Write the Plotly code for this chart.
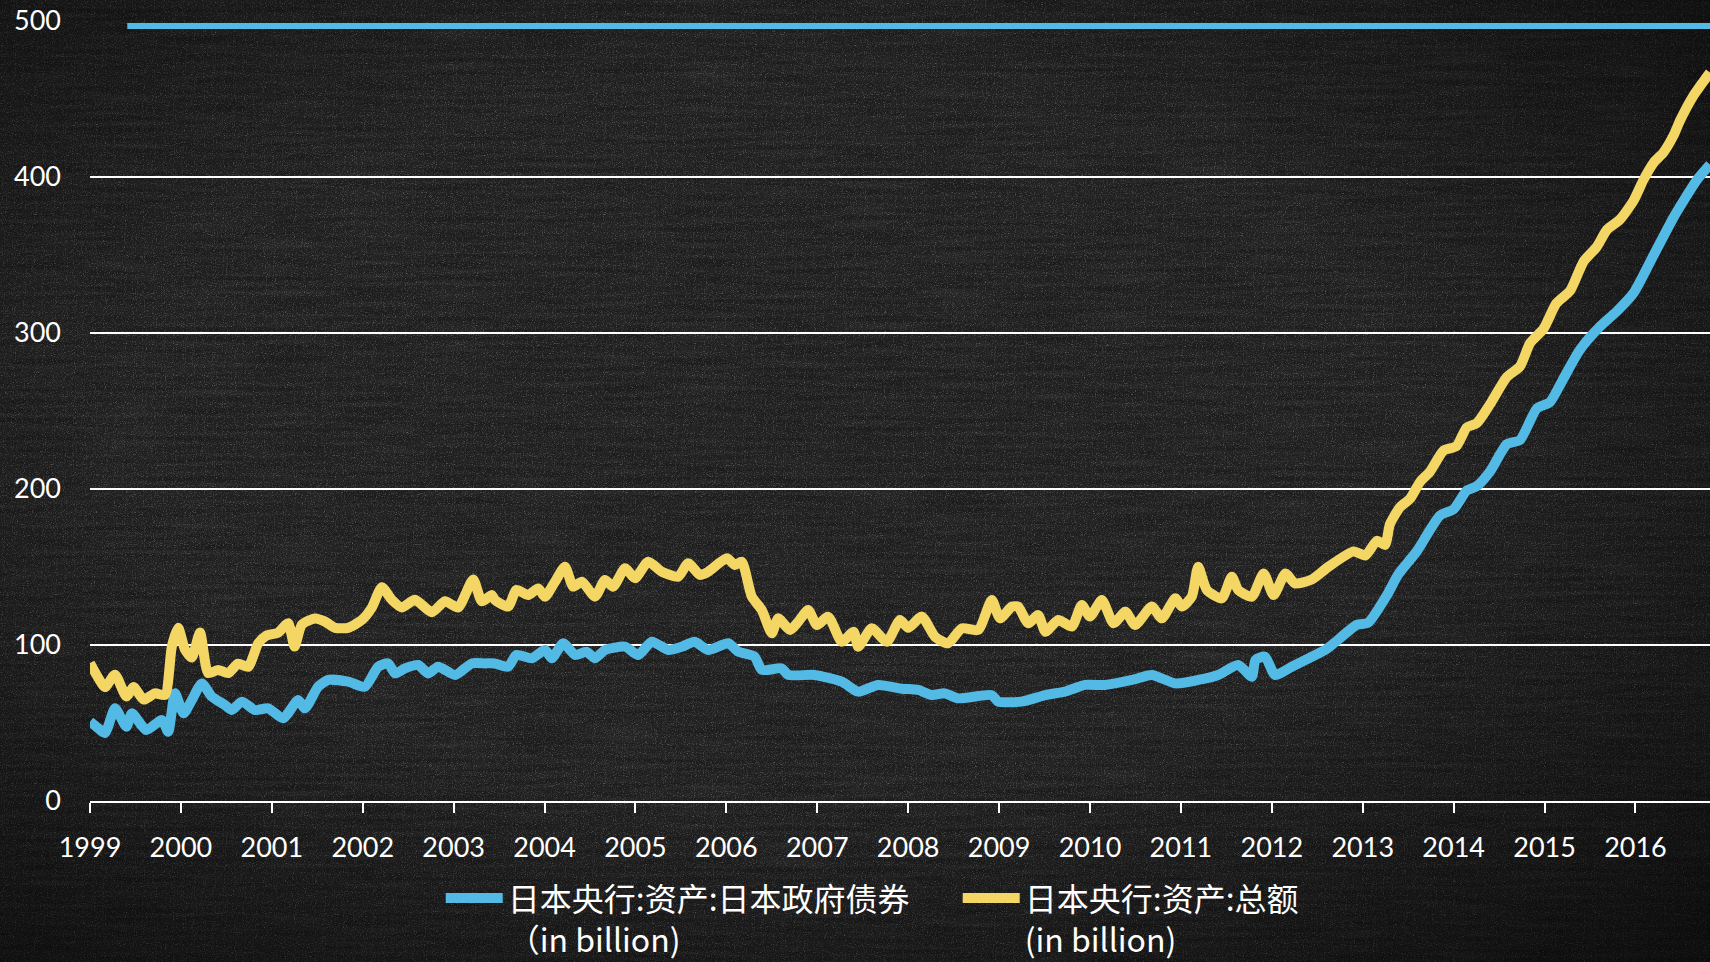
import base64
import plotly.graph_objects as go

# BOJ assets: Japanese government bonds held (blue) and total assets (yellow), in billion
jgb_year = [
    1999.00, 1999.07, 1999.165, 1999.275, 1999.40, 1999.46, 1999.62, 1999.79, 1999.86, 1999.935,
    2000.03, 2000.12, 2000.23, 2000.34, 2000.485, 2000.56, 2000.67, 2000.815, 2000.96, 2001.125,
    2001.29, 2001.365, 2001.51, 2001.62, 2001.84, 2002.025, 2002.17, 2002.28, 2002.355, 2002.465,
    2002.61, 2002.72, 2002.83, 2003.015, 2003.20, 2003.345, 2003.45, 2003.60, 2003.69, 2003.86,
    2004.005, 2004.08, 2004.205, 2004.335, 2004.46, 2004.555, 2004.665, 2004.885, 2005.03, 2005.18,
    2005.36, 2005.51, 2005.65, 2005.80, 2006.02, 2006.13, 2006.31, 2006.39, 2006.61, 2006.68,
    2006.97, 2007.27, 2007.45, 2007.67, 2007.93, 2008.11, 2008.26, 2008.40, 2008.55, 2008.92,
    2008.99, 2009.245, 2009.51, 2009.725, 2009.945, 2010.165, 2010.46, 2010.68, 2010.94, 2011.19,
    2011.41, 2011.63, 2011.78, 2011.82, 2011.925, 2012.035, 2012.22, 2012.44, 2012.59, 2012.68,
    2012.935, 2013.06, 2013.265, 2013.39, 2013.595, 2013.85, 2014.00, 2014.145, 2014.255, 2014.40,
    2014.585, 2014.73, 2014.915, 2015.06, 2015.205, 2015.39, 2015.61, 2015.79, 2015.98, 2016.20,
    2016.42, 2016.53, 2016.68, 2016.82,
]
jgb_value = [
    50.8, 47.6, 43.6, 59.4, 47.6, 56.2, 45.5, 51.9, 44.4, 69.0,
    56.2, 64.7, 75.4, 66.9, 61.5, 58.3, 63.7, 58.3, 59.4, 53.0,
    64.7, 59.4, 73.3, 77.6, 76.5, 73.3, 86.1, 88.2, 81.8, 85.0,
    87.2, 81.8, 86.1, 80.8, 88.2, 88.2, 88.2, 86.1, 93.6, 91.5,
    96.8, 91.5, 101.1, 93.6, 95.7, 91.5, 96.8, 98.9, 93.6, 102.1,
    96.8, 98.9, 102.1, 96.8, 101.1, 95.7, 92.5, 84.0, 85.0, 80.8,
    80.8, 76.5, 70.1, 74.4, 72.0, 71.2, 67.9, 69.0, 65.8, 67.9,
    63.7, 63.7, 67.9, 70.1, 74.4, 74.4, 77.6, 80.8, 75.4, 77.6,
    80.8, 87.2, 79.7, 90.4, 92.5, 80.8, 86.1, 92.5, 97.0, 101.0,
    112.9, 114.3, 131.8, 145.2, 160.1, 183.0, 187.0, 199.1, 201.8, 211.2,
    228.7, 231.4, 251.6, 255.7, 270.5, 289.3, 304.1, 313.6, 325.7, 349.9,
    374.2, 384.9, 398.4, 408.0,
]

total_year = [
    1999.00, 1999.09, 1999.165, 1999.275, 1999.40, 1999.48, 1999.59, 1999.715, 1999.825, 1999.90,
    1999.97, 2000.045, 2000.12, 2000.21, 2000.30, 2000.41, 2000.52, 2000.63, 2000.74, 2000.85,
    2000.94, 2001.07, 2001.18, 2001.25, 2001.33, 2001.475, 2001.585, 2001.695, 2001.84, 2001.99,
    2002.10, 2002.21, 2002.32, 2002.43, 2002.575, 2002.76, 2002.905, 2003.05, 2003.215, 2003.31,
    2003.42, 2003.455, 2003.60, 2003.69, 2003.82, 2003.93, 2004.005, 2004.115, 2004.225, 2004.315,
    2004.41, 2004.555, 2004.665, 2004.755, 2004.885, 2004.995, 2005.14, 2005.29, 2005.47, 2005.58,
    2005.71, 2005.80, 2006.005, 2006.095, 2006.17, 2006.28, 2006.39, 2006.50, 2006.57, 2006.70,
    2006.79, 2006.90, 2006.995, 2007.12, 2007.27, 2007.40, 2007.45, 2007.60, 2007.765, 2007.91,
    2008.00, 2008.15, 2008.295, 2008.44, 2008.59, 2008.77, 2008.92, 2009.01, 2009.14, 2009.21,
    2009.32, 2009.43, 2009.51, 2009.65, 2009.80, 2009.91, 2010.00, 2010.13, 2010.26, 2010.39,
    2010.495, 2010.68, 2010.79, 2010.94, 2011.01, 2011.12, 2011.19, 2011.285, 2011.45, 2011.56,
    2011.63, 2011.78, 2011.91, 2012.02, 2012.15, 2012.255, 2012.44, 2012.62, 2012.90, 2013.03,
    2013.155, 2013.245, 2013.30, 2013.41, 2013.52, 2013.63, 2013.74, 2013.89, 2014.03, 2014.145,
    2014.255, 2014.40, 2014.585, 2014.73, 2014.84, 2014.99, 2015.13, 2015.28, 2015.43, 2015.575,
    2015.685, 2015.83, 2015.98, 2016.09, 2016.20, 2016.31, 2016.42, 2016.49, 2016.64, 2016.82,
]
total_value = [
    88.4, 79.0, 73.0, 81.0, 67.0, 73.0, 65.0, 69.0, 68.0, 99.0,
    111.0, 97.0, 92.0, 108.0, 82.0, 84.0, 82.0, 88.0, 86.0, 101.0,
    106.0, 108.0, 114.0, 99.0, 113.0, 117.0, 115.0, 111.0, 111.0, 116.0,
    124.0, 137.0, 129.0, 124.0, 129.0, 121.0, 128.0, 124.0, 142.0, 128.0,
    132.0, 128.8, 124.6, 135.3, 132.0, 136.3, 131.0, 140.6, 150.2, 137.4,
    140.6, 131.0, 141.7, 137.4, 149.2, 142.8, 153.4, 147.0, 143.8, 152.4,
    144.9, 147.0, 155.6, 151.3, 153.4, 131.0, 122.4, 107.5, 117.1, 109.6,
    114.9, 122.4, 112.8, 118.1, 102.1, 108.5, 98.9, 110.7, 102.1, 116.0,
    111.0, 118.2, 105.3, 101.1, 110.7, 109.6, 128.8, 117.1, 124.6, 124.6,
    113.9, 119.2, 108.5, 116.0, 111.8, 125.6, 118.2, 128.8, 113.9, 121.4,
    112.8, 124.6, 117.1, 129.9, 124.6, 131.0, 150.2, 135.3, 129.9, 143.8,
    135.3, 131.0, 145.9, 132.0, 145.9, 139.5, 142.0, 150.0, 160.0, 157.4,
    166.8, 164.1, 177.6, 188.3, 193.7, 204.5, 211.2, 224.7, 227.4, 239.5,
    242.2, 254.3, 271.8, 278.6, 293.4, 302.8, 319.0, 327.0, 345.9, 355.3,
    366.1, 372.8, 384.9, 398.4, 409.2, 415.9, 426.7, 436.1, 452.3, 467.0,
]

series_names = [
    "日本央行:资产:日本政府债券<br>（in billion)",
    "日本央行:资产:总额<br>(in billion)",
]
year_ticks = list(range(1999, 2017))
value_ticks = [0, 100, 200, 300, 400, 500]

BLUE = "#52BAE4"
YELLOW = "#F3D664"
BOARD = "#1b1b1b"
TICK_FONT = dict(family="Lato, 'Open Sans', sans-serif", size=27, color="#ffffff")

# chalkboard texture: SVG turbulence noise with horizontal grain and a soft vignette
board_svg = """<svg xmlns='http://www.w3.org/2000/svg' width='1710' height='962'>
<defs>
<filter id='grain' x='0' y='0' width='100%' height='100%'>
<feTurbulence type='fractalNoise' baseFrequency='0.012 0.22' numOctaves='4' seed='7'/>
<feColorMatrix type='matrix' values='0 0 0 0 1 0 0 0 0 1 0 0 0 0 1 0.5 0.5 0.5 0 -0.55'/>
</filter>
<filter id='dust' x='0' y='0' width='100%' height='100%'>
<feTurbulence type='fractalNoise' baseFrequency='0.9' numOctaves='2' seed='3'/>
<feColorMatrix type='matrix' values='0 0 0 0 1 0 0 0 0 1 0 0 0 0 1 1.2 1.2 1.2 0 -1.8'/>
</filter>
<radialGradient id='vig' cx='0.45' cy='0.45' r='0.75'>
<stop offset='0.5' stop-color='#000' stop-opacity='0'/>
<stop offset='1' stop-color='#000' stop-opacity='0.6'/>
</radialGradient>
</defs>
<rect width='1710' height='962' fill='#1c1c1c'/>
<rect width='1710' height='962' filter='url(#grain)' opacity='0.1'/>
<rect width='1710' height='962' filter='url(#dust)' opacity='0.3'/>
<rect width='1710' height='962' fill='url(#vig)'/>
</svg>"""
board_src = "data:image/svg+xml;base64," + base64.b64encode(board_svg.encode("utf-8")).decode("ascii")

fig = go.Figure()
fig.add_trace(go.Scatter(
    x=jgb_year, y=jgb_value, name=series_names[0], mode="lines",
    line=dict(color=BLUE, width=10, shape="spline", smoothing=0.6),
))
fig.add_trace(go.Scatter(
    x=total_year, y=total_value, name=series_names[1], mode="lines",
    line=dict(color=YELLOW, width=10, shape="spline", smoothing=0.6),
))

# chalk stroke along the top edge of the board
fig.add_shape(
    type="line", xref="paper", yref="paper",
    x0=0.023, x1=1.0, y0=0.9935, y1=0.9935,
    line=dict(color=BLUE, width=6), layer="below",
)

fig.add_layout_image(
    source=board_src, xref="paper", yref="paper",
    x=-90 / 1620, y=1 + 21 / 780, sizex=1710 / 1620, sizey=962 / 780,
    xanchor="left", yanchor="top", sizing="stretch", layer="below",
)

fig.update_layout(
    width=1710, height=962,
    paper_bgcolor=BOARD, plot_bgcolor="rgba(0,0,0,0)",
    margin=dict(l=90, r=0, t=21, b=161, autoexpand=False),
    showlegend=True,
    legend=dict(
        orientation="h",
        x=0.2165, xanchor="left",
        y=-0.0895, yanchor="top",
        valign="top",
        font=dict(family="'Noto Sans CJK SC', sans-serif", size=32, color="#ffffff"),
        itemwidth=57,
        bgcolor="rgba(0,0,0,0)",
        traceorder="normal",
        entrywidth=445,
    ),
    xaxis=dict(
        range=[1999, 2016.82],
        tickvals=year_ticks,
        ticktext=[str(y) for y in year_ticks],
        showgrid=False, zeroline=False,
        showline=True, linecolor="#ffffff", linewidth=2,
        ticks="outside", ticklen=10, tickwidth=2, tickcolor="#ffffff",
        ticklabelstandoff=12,
        tickfont=TICK_FONT,
    ),
    yaxis=dict(
        range=[0, 500],
        tickvals=value_ticks,
        showgrid=True, gridcolor="#ffffff", gridwidth=2,
        zeroline=False, showline=False,
        ticks="", ticklabelstandoff=28,
        tickfont=TICK_FONT,
    ),
)

fig.write_html("out.html")
